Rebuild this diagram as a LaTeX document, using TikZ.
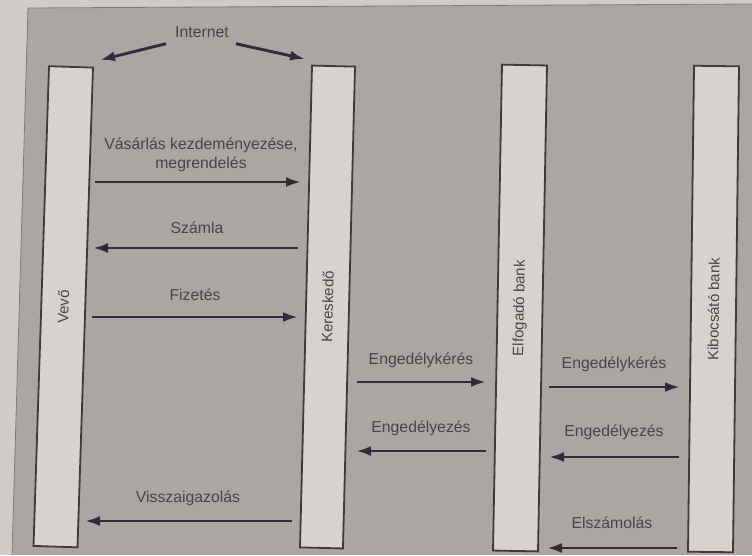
\documentclass[tikz,border=0pt]{standalone}
\usepackage{fontspec}
\setmainfont{Liberation Sans}
\usetikzlibrary{arrows.meta}
\definecolor{page}{HTML}{CFCBC7}
\definecolor{panel}{HTML}{ABA6A2}
\definecolor{boxfill}{HTML}{D6D3CF}
\definecolor{boxline}{HTML}{45373F}
\definecolor{arrowc}{HTML}{342A40}
\definecolor{txt}{HTML}{48434C}
\tikzset{
  lifeline/.style={draw=boxline, line width=1.8pt, fill=boxfill, minimum height=44pt, inner sep=0pt,
    text=txt, font=\fontsize{15}{18}\selectfont},
  lbl/.style={text=txt, font=\fontsize{15.8}{19}\selectfont, inner sep=2pt, align=center},
  msg/.style={draw=arrowc, line width=2.9pt, -{Latex[length=15pt,width=10pt]}}
}
\begin{document}
\begin{tikzpicture}[x=1pt,y=-1pt]
\useasboundingbox (0,0) rectangle (752,555);
\fill[page] (0,0) rectangle (752,555);
\fill[panel] (28,8) -- (752,4) -- (752,555) -- (12,555) -- cycle;
\draw[panel!75!black, line width=0.8pt] (12,555) -- (28,8) -- (752,4);

% lifelines
\node[lifeline, rotate=88.15, minimum width=480pt, minimum height=44pt] (vevo) at (63.25,306.75) {Vevő};
\node[lifeline, rotate=88.57, minimum width=482pt, minimum height=43pt] (ker) at (327.5,307) {Kereskedő};
\node[lifeline, rotate=88.94, minimum width=486pt, minimum height=45pt] (elf) at (520,308) {Elfogadó bank};
\node[lifeline, rotate=89.29, minimum width=486pt, minimum height=45pt] (kib) at (713.5,309) {Kibocsátó bank};

% internet
\node[lbl] (internet) at (202,32) {Internet};
\coordinate (inl) at (100,60);
\coordinate (inr) at (305,59);
\draw[msg] ([xshift=-7pt,yshift=-4pt]internet.south west) -- (inl);
\draw[msg] ([xshift=5pt,yshift=-4pt]internet.south east) -- (inr);

% messages Vevo <-> Kereskedo
\node[lbl] (l1) at (201,155) {Vásárlás kezdeményezése,\\megrendelés};
\coordinate (m1a) at (95,182); \coordinate (m1b) at (301,182);
\draw[msg] (m1a) -- (m1b);

\node[lbl] (l2) at (197,228) {Számla};
\coordinate (m2a) at (298,248); \coordinate (m2b) at (93,248);
\draw[msg] (m2a) -- (m2b);

\node[lbl] (l3) at (195,295) {Fizetés};
\coordinate (m3a) at (92,317); \coordinate (m3b) at (298,317);
\draw[msg] (m3a) -- (m3b);

\node[lbl] (l4) at (188,498) {Visszaigazolás};
\coordinate (m4a) at (292,521); \coordinate (m4b) at (85,521);
\draw[msg] (m4a) -- (m4b);

% Kereskedo <-> Elfogado
\node[lbl] (l5) at (421,360) {Engedélykérés};
\coordinate (m5a) at (357,382); \coordinate (m5b) at (486,382);
\draw[msg] (m5a) -- (m5b);

\node[lbl] (l6) at (421,428) {Engedélyezés};
\coordinate (m6a) at (486,451); \coordinate (m6b) at (356,451);
\draw[msg] (m6a) -- (m6b);

% Elfogado <-> Kibocsato
\node[lbl] (l7) at (614,364) {Engedélykérés};
\coordinate (m7a) at (549,387); \coordinate (m7b) at (680,387);
\draw[msg] (m7a) -- (m7b);

\node[lbl] (l8) at (614,432) {Engedélyezés};
\coordinate (m8a) at (679,457); \coordinate (m8b) at (549,457);
\draw[msg] (m8a) -- (m8b);

\node[lbl] (l9) at (612,523) {Elszámolás};
\coordinate (m9a) at (677,548); \coordinate (m9b) at (547,548);
\draw[msg] (m9a) -- (m9b);
\end{tikzpicture}
\end{document}
